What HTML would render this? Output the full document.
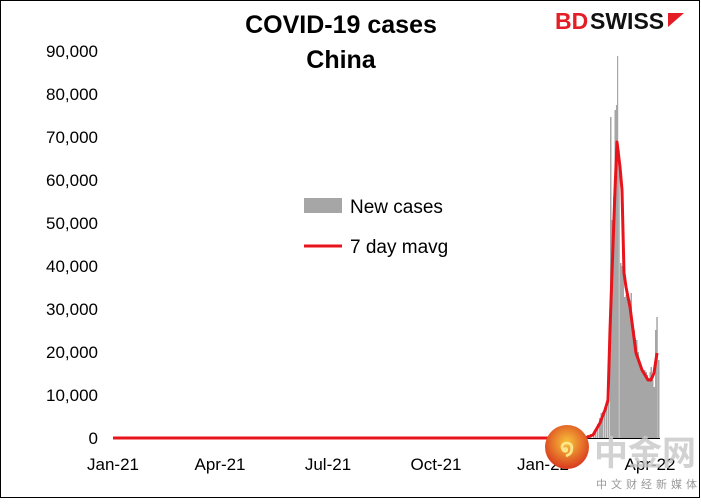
<!DOCTYPE html>
<html><head><meta charset="utf-8"><style>
html,body{margin:0;padding:0;background:#fff}
body{width:701px;height:499px;overflow:hidden}
</style></head><body>
<svg width="701" height="499" xmlns="http://www.w3.org/2000/svg" font-family="Liberation Sans, sans-serif">
<rect x="0.5" y="0.5" width="699" height="497" fill="#fff" stroke="#000" stroke-width="1"/>
<text x="341" y="33" font-size="25" font-weight="bold" text-anchor="middle">COVID-19 cases</text>
<text x="341" y="68" font-size="25" font-weight="bold" text-anchor="middle">China</text>
<text x="555" y="29" font-size="23" font-weight="bold" fill="#e31e24">BD</text>
<text x="590" y="29" font-size="23" font-weight="bold" fill="#111">SWISS</text>
<path d="M668 13 L684 13 L668 27 Z" fill="#e31e24"/>
<g font-size="17" text-anchor="end">
<text x="98" y="444">0</text>
<text x="98" y="401">10,000</text>
<text x="98" y="358">20,000</text>
<text x="98" y="315">30,000</text>
<text x="98" y="272">40,000</text>
<text x="98" y="229">50,000</text>
<text x="98" y="186">60,000</text>
<text x="98" y="143">70,000</text>
<text x="98" y="100">80,000</text>
<text x="98" y="57">90,000</text>
</g>
<g font-size="17" text-anchor="middle">
<text x="113" y="470">Jan-21</text>
<text x="220" y="470">Apr-21</text>
<text x="328" y="470">Jul-21</text>
<text x="436" y="470">Oct-21</text>
<text x="543" y="470">Jan-22</text>
<text x="650" y="470">Apr-22</text>
</g>
<g fill="#a6a6a6">
<rect x="584" y="436" width="1.5" height="2"/><rect x="587" y="435" width="1.5" height="3"/><rect x="590" y="434" width="1.5" height="4"/><rect x="593" y="432" width="1.5" height="6"/><rect x="595" y="430" width="1.5" height="8"/><rect x="597" y="424" width="1.5" height="14"/><rect x="599" y="418" width="1.5" height="20"/><rect x="600.5" y="413" width="1.5" height="25"/><rect x="602" y="412" width="1.5" height="26"/><rect x="604" y="410" width="1.5" height="28"/><rect x="606" y="405" width="1.5" height="33"/><rect x="608" y="400" width="1.5" height="38"/><rect x="610" y="117" width="1.5" height="321"/><rect x="611.5" y="220" width="1.5" height="218"/><rect x="613" y="197" width="1.5" height="241"/><rect x="614.5" y="110" width="1.5" height="328"/><rect x="616" y="105" width="1.2" height="333"/><rect x="617" y="56" width="1.2" height="382"/><rect x="618.2" y="150" width="1.5" height="288"/><rect x="620" y="263" width="1.5" height="175"/><rect x="621.5" y="266" width="1.5" height="172"/><rect x="622.5" y="270" width="1.5" height="168"/><rect x="624" y="297" width="1.5" height="141"/><rect x="625.5" y="295" width="1.5" height="143"/><rect x="626.5" y="300" width="1.5" height="138"/><rect x="628" y="303" width="1.5" height="135"/><rect x="629.5" y="300" width="1.5" height="138"/><rect x="630.5" y="293" width="1.5" height="145"/><rect x="632" y="327" width="1.5" height="111"/><rect x="633.5" y="330" width="1.5" height="108"/><rect x="634.5" y="338" width="1.5" height="100"/><rect x="636" y="340" width="1.5" height="98"/><rect x="637.5" y="352" width="1.5" height="86"/><rect x="638.5" y="360" width="1.5" height="78"/><rect x="640" y="365" width="1.5" height="73"/><rect x="641.5" y="370" width="1.5" height="68"/><rect x="642.5" y="373" width="1.5" height="65"/><rect x="644" y="370" width="1.5" height="68"/><rect x="645.5" y="372" width="1.5" height="66"/><rect x="646.5" y="375" width="1.5" height="63"/><rect x="648" y="378" width="1.5" height="60"/><rect x="649.5" y="372" width="1.5" height="66"/><rect x="650.5" y="367" width="1.5" height="71"/><rect x="652" y="380" width="1.5" height="58"/><rect x="653.5" y="387" width="1.5" height="51"/><rect x="655" y="330" width="1.5" height="108"/><rect x="656.3" y="317" width="1.5" height="121"/><rect x="658" y="360" width="1.5" height="78"/>
</g>
<line x1="113" y1="438.5" x2="660" y2="438.5" stroke="#000" stroke-width="1"/>
<polyline fill="none" stroke="#e8141b" stroke-width="3" stroke-linejoin="round" points="113,438 585,438 593,435 600,423 605,410 608,400 610,330 612,273 615,190 617,142 620,167 622,190 624,273 626,287 628,297 630,307 636,353 642,370 648,380 651,380 654,373 657,353"/>
<rect x="304" y="198" width="38" height="15" fill="#a6a6a6"/>
<text x="350" y="213" font-size="19">New cases</text>
<line x1="304" y1="246" x2="342" y2="246" stroke="#e8141b" stroke-width="3"/>
<text x="350" y="253" font-size="19">7 day mavg</text>
<defs><radialGradient id="g" cx="50%" cy="40%" r="60%"><stop offset="0" stop-color="#f7c53a"/><stop offset="1" stop-color="#d9381e"/></radialGradient></defs>
<circle cx="567" cy="447" r="22" fill="url(#g)"/>
<text x="567" y="455" font-size="22" font-weight="bold" fill="#fde68a" text-anchor="middle">໑</text>
<text x="594" y="465" font-size="34" font-weight="bold" fill="#c8c8c8" opacity="0.8" font-family="Noto Sans CJK SC, sans-serif">中金网</text>
<text x="596" y="488" font-size="11" fill="#999" letter-spacing="4" font-family="Noto Sans CJK SC, sans-serif">中文财经新媒体</text>
</svg>
</body></html>
